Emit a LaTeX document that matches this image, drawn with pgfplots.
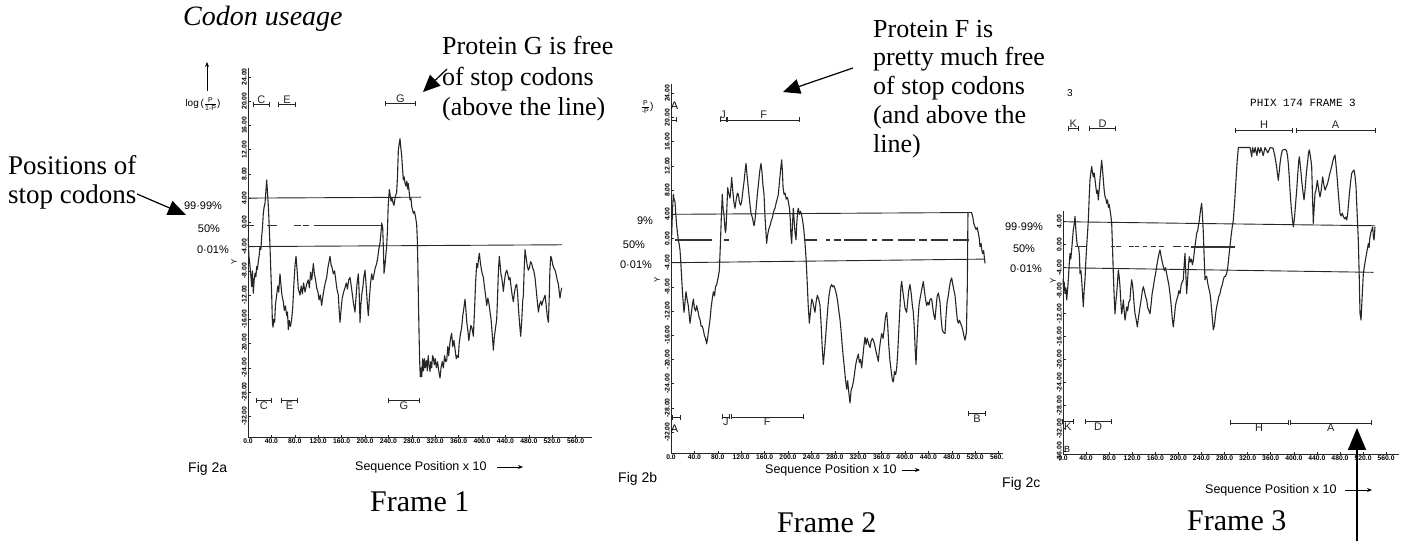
\documentclass[border=0pt]{standalone}
\usepackage{fontspec}
\setmainfont{Liberation Serif}
\setsansfont{Liberation Sans}
\setmonofont{Liberation Mono}
\usepackage{pgfplots}
\pgfplotsset{compat=1.18}
\usetikzlibrary{arrows.meta}
\newcommand\sz[2]{\fontsize{#1}{#2}\selectfont}
\newcommand\tl{\sffamily\bfseries\sz{6.8}{7}}
\newcommand\bl{\sffamily\sz{11}{12}}
\pgfplotsset{
  panel/.style={
    scale only axis, clip=false, anchor=south west,
    axis x line=bottom, axis y line=left,
    axis line style={-, line width=0.9pt, black!85},
    xtick={0,40,...,560},
    ytick={-32,-28,...,24},
    tick style={black!85, line width=0.6pt},
    major tick length=2.5pt, tick align=inside,
    /pgf/number format/assume math mode=true,
    xticklabel style={font=\tl, inner sep=1pt,
      /pgf/number format/fixed, /pgf/number format/fixed zerofill, /pgf/number format/precision=1},
    yticklabel style={font=\tl, rotate=90, anchor=south, inner sep=1pt,
      /pgf/number format/fixed, /pgf/number format/fixed zerofill, /pgf/number format/precision=2},
  },
  dat/.style={black!85, line width=1.1pt, line join=round, no markers},
  thr/.style={black!85, line width=0.9pt, no markers},
  stops/.style={only marks, mark=-, mark size=2.2pt, mark options={line width=1.3pt, black!80}},
  brk/.style={black!85, line width=0.8pt, no markers, arrows={Bar[width=5pt]-Bar[width=5pt]}},
}
\begin{document}
\begin{tikzpicture}[x=1pt,y=1pt]
\path[use as bounding box] (0,0) rectangle (1401,541);

% ---------------- Frame 1 ----------------
\begin{axis}[panel, at={(248pt,103.5pt)}, width=344pt, height=369.7pt,
  xmin=0, xmax=588, ymin=-35.5, ymax=25.5]
\addplot[thr] coordinates {(0,4.0) (296,4.15)};
\addplot[thr] coordinates {(0,-4.0) (537,-3.7)};
\addplot[stops] coordinates {(2,-0.5) (6,-0.5) (37,-0.5) (45,-0.5) (83,-0.5) (87,-0.5) (97,-0.5) (101,-0.5)
 (116,-0.5) (120,-0.5) (124,-0.5) (128,-0.5) (132,-0.5) (136,-0.5) (140,-0.5) (144,-0.5)
 (150,-0.5) (154,-0.5) (158,-0.5) (162,-0.5) (166,-0.5) (170,-0.5) (174,-0.5) (178,-0.5) (182,-0.5) (186,-0.5) (190,-0.5)
 (196,-0.5) (202,-0.5) (206,-0.5) (212,-0.5) (218,-0.5) (224,-0.5)};
\addplot[dat] coordinates {
(0.3,-2.5) (1.5,-5.5) (3.4,-7.2) (5,-9) (6.3,-10.6) (7.5,-8) (9.1,-11.7) (10.5,-9.5) (12.0,-8.4) (13.5,-9.0)
(14.8,-7.3) (16,-7.8) (17.7,-6.4) (19,-5.5) (20.5,-4.0) (22,-4.5) (23.4,-2.3) (24.8,-0.8) (26.2,1.5) (27.5,2.5)
(29.1,3.2) (30.5,5.0) (31.9,7.0) (33.3,5.0) (34.8,2.6) (36.2,-0.5) (37.6,-4.0) (39,-8) (40.5,-12) (41.7,-16.5)
(42.8,-17.3) (44,-16.0) (45.5,-16.5) (47,-13.5) (49.0,-12.0) (51,-10.5) (52.5,-11.5) (54.7,-8.5) (56.5,-10.5) (58,-12.0)
(60.4,-13.1) (62,-14.5) (64,-13.8) (66.1,-15.4) (67.5,-14.8) (68.9,-17.7) (70.5,-16.2) (72.5,-17.2) (74.6,-16.0) (76.5,-14)
(78.5,-10) (80.5,-7) (82.1,-5.6) (84,-8) (86,-11) (88.9,-12.0) (91,-10.5) (93,-11.8) (95,-10) (97.5,-11.5)
(100.3,-10.2) (103,-9.5) (105,-10.8) (107,-8.2) (109,-9.5) (111.7,-6.8) (113.5,-8.5) (115.5,-9.5) (117.4,-10.8) (119.5,-11.5)
(121.5,-12.8) (123.5,-12.0) (125.9,-13.7) (128,-12.2) (130,-11.0) (132,-10.0) (134.5,-9.1) (136.5,-7.5) (138.5,-6.5) (140.2,-5.6)
(142,-7.0) (143.8,-7.5) (145.9,-8.5) (148,-8.0) (150,-9.5) (152,-11.0) (154.4,-12.0) (155.8,-14.5) (157.3,-16.5) (159,-14.5)
(161,-12.5) (163.5,-11.5) (165.8,-10.8) (168,-10.0) (170,-11.0) (172,-9.5) (174.4,-9.1) (176.5,-10.5) (178.5,-12.0) (180.5,-13.5)
(182.9,-14.8) (184.5,-12.5) (186.5,-10.0) (188.6,-8.5) (190,-11.5) (191.5,-16.5) (193,-13.5) (194.3,-12.0) (196.5,-10.5) (198,-9.0)
(200.0,-7.9) (202,-10.5) (204,-13.5) (205.7,-15.4) (207.5,-12.5) (209.5,-10.0) (211.4,-8.5) (213.5,-9.5) (215.5,-8.5) (217.5,-7.5)
(219.9,-6.8) (221.5,-6.0) (223.5,-4.5) (225.6,-3.4) (227.5,-1.5) (228.5,-0.1) (230.2,-0.8) (231.5,-4.5) (232.5,-8.4) (234.2,-7.0)
(235.5,-5.5) (237,-4.0) (238.5,-1.0) (239.5,2.5) (240.5,4.0) (241.6,5.4) (243,4.5) (244.5,3.5) (246,4.0) (248,3.2)
(249.5,2.8) (251,3.8) (252.5,4.5) (254,4.8) (255.5,7.5) (257,12.0) (258.5,13.0) (259.8,13.8) (261,12.5) (262.7,11.0)
(264,9.0) (265.5,7.0) (267,7.5) (268.4,6.5) (270,6.0) (271.5,6.8) (273,5.5) (274.1,6.4) (275.5,5.0) (277,3.7)
(278.5,4.0) (280,2.5) (282.6,1.5) (284.5,1.8) (286.5,0.8) (288.3,-0.3) (289.5,-3) (290.5,-8) (291.5,-14) (292.5,-19)
(293.5,-23) (294.5,-25.5) (296,-24.0) (297,-25.5) (298.5,-22.5) (300,-24.5) (301.5,-22.5) (303,-24.0) (305,-22.8) (306.5,-24.5)
(308,-22.0) (309.5,-23.5) (311.1,-24.6) (312.5,-23.0) (314,-24.0) (315.5,-22.0) (316.8,-22.3) (318.5,-23.5) (320,-22.5) (322,-24.0)
(324,-23.0) (326,-24.5) (328.2,-25.7) (330,-24.0) (332,-23.0) (334,-24.0) (336,-22.0) (338,-23.0) (339.6,-22.8) (341.5,-20.5)
(343,-22.0) (345,-20.0) (346.5,-19.0) (348.1,-18.3) (350,-20.5) (352,-19.5) (354,-21.0) (356,-22.5) (357.5,-22.0) (359.5,-22.3)
(361,-20.0) (363,-18.5) (365,-17.5) (367,-15.5) (368.5,-14.5) (370.9,-12.7) (372.5,-14.5) (374,-16.5) (376,-18.0) (377.5,-19.5)
(379.5,-18.0) (381,-17.0) (383,-17.5) (385.2,-18.8) (387,-15.0) (389,-10.0) (390.9,-6.8) (392.5,-7.5) (394,-6.0) (395.5,-5.1)
(397,-6.5) (399,-7.8) (400.5,-8.5) (402.3,-9.1) (404,-10.5) (406,-12.0) (408.0,-13.7) (410,-12.5) (412,-13.5) (413.7,-14.8)
(415.5,-16.0) (417.5,-18.5) (419.4,-21.1) (421,-19.0) (423,-17.5) (425.1,-16.0) (426.5,-12.5) (428,-8.0) (429.6,-5.6) (431,-7.0)
(432.3,-8.5) (433.6,-9.1) (435,-10.0) (436.5,-11.4) (438,-10.0) (440,-8.5) (442.2,-7.9) (444,-8.5) (446,-9.5) (447.9,-9.1)
(449.5,-10.5) (451.5,-12.0) (453.6,-13.1) (455.5,-11.5) (457.5,-10.5) (459.3,-10.2) (461,-12.0) (462.5,-14.5) (464.3,-16.8) (466.1,-18.8)
(468,-16.0) (469.5,-13.0) (470.7,-12.0) (472,-8.0) (473.5,-4.5) (475,-5.5) (477,-7.0) (479.2,-7.9) (481,-7.5) (483,-6.5)
(484.9,-6.8) (486.5,-7.5) (488.5,-8.0) (490.6,-9.1) (492.5,-11.0) (494.5,-13.0) (496.4,-14.8) (498.5,-13.5) (500.5,-13.0) (502.1,-13.7)
(504,-13.0) (506,-12.5) (507.8,-12.0) (509.5,-13.5) (511.5,-15.5) (513.5,-16.5) (515,-12.0) (516,-8.0) (517.5,-5.6) (519,-6.0)
(521,-7.0) (522.5,-7.5) (524.8,-7.9) (526.5,-8.5) (528.5,-9.5) (530.5,-10.2) (532,-11.5) (533.3,-12.5) (534.8,-11.5) (536.2,-10.8)};
\addplot[brk] coordinates {(9.1,19.4) (36.5,19.4)} node[pos=0.5,above,inner sep=1pt,font=\bl]{C};
\addplot[brk] coordinates {(51.9,19.4) (81.5,19.4)} node[pos=0.5,above,inner sep=1pt,font=\bl]{E};
\addplot[brk] coordinates {(234,19.6) (287,19.6)} node[pos=0.5,above,inner sep=1pt,font=\bl]{G};
\addplot[brk] coordinates {(13.7,-29.4) (40.5,-29.4)} node[pos=0.5,below,inner sep=1pt,font=\bl]{C};
\addplot[brk] coordinates {(56.4,-29.4) (85.5,-29.4)} node[pos=0.5,below,inner sep=1pt,font=\bl]{E};
\addplot[brk] coordinates {(238.7,-29.4) (294,-29.4)} node[pos=0.5,below,inner sep=1pt,font=\bl]{G};
\end{axis}

% ---------------- Frame 2 ----------------
\begin{axis}[panel, at={(671pt,87.7pt)}, width=339.3pt, height=369.05pt,
  xmin=0, xmax=580, ymin=-35.5, ymax=25.5]
\addplot[thr] coordinates {(0,4.0) (514,4.3)};
\addplot[thr] coordinates {(0,-4.0) (537,-3.4)};
\addplot[stops] coordinates {(10,-0.25) (15,-0.25) (22,-0.25) (28,-0.25) (33,-0.25) (40,-0.25) (44,-0.25) (50,-0.25) (56,-0.25) (62,-0.25) (66,-0.25) (95,-0.25)
 (232,-0.25) (236,-0.25) (240,-0.25) (246,-0.25) (268,-0.25) (282,-0.25) (287,-0.25) (300,-0.25) (304,-0.25) (308,-0.25) (312,-0.25)
 (316,-0.25) (320,-0.25) (324,-0.25) (328,-0.25) (332,-0.25) (348,-0.25) (365,-0.25) (370,-0.25) (376,-0.25) (392,-0.25) (397,-0.25)
 (402,-0.25) (408,-0.25) (413,-0.25) (428,-0.25) (434,-0.25) (448,-0.25) (453,-0.25) (458,-0.25) (463,-0.25) (469,-0.25)
 (485,-0.25) (490,-0.25) (495,-0.25) (500,-0.25) (505,-0.25)};
\addplot[dat] coordinates {
(0.5,-1.0) (1.1,0.4) (2.5,4.5) (4.0,7.3) (5.2,6.5) (6.8,6.1) (8.2,4.0) (9.7,2.1) (11,1.0) (12.5,-0.2)
(14,-1.0) (15.4,-1.9) (16.8,-4.0) (18.2,-6.5) (20,-9.5) (22.2,-12.2) (24,-10.5) (25.6,-8.8) (27.5,-10.0) (29.6,-11.1)
(31,-12.5) (32.5,-14.0) (34.5,-12.5) (36.5,-11.0) (38.2,-10.0) (40,-11.5) (42,-12.0) (43.9,-11.1) (46,-12.0) (48,-13.0)
(49.6,-13.4) (51.5,-14.5) (53.5,-14.5) (55.3,-15.1) (57,-16.0) (59,-16.5) (60.9,-17.4) (62.5,-16.5) (64.5,-15.0) (66.7,-13.4)
(68.5,-11.5) (70.5,-10.0) (72.4,-8.8) (74.5,-9.5) (76,-8.0) (78.1,-7.6) (80.5,-6.5) (82.6,-5.3) (84,-2.0) (84.9,0.4)
(86.2,4.0) (87.7,7.3) (89,5.0) (90.6,3.8) (92,2.0) (93,1.0) (94.0,1.5) (95.5,5.0) (96.9,8.4) (98.5,7.5)
(100.9,6.7) (102.5,8.5) (103.7,10.1) (105.5,8.0) (107.5,6.0) (109.4,5.0) (111.5,6.5) (113.5,7.5) (115.1,7.3) (117,6.0)
(119,5.5) (120.8,6.1) (123,8.0) (125,9.5) (126.5,11.0) (128.2,12.4) (130,10.5) (132,8.5) (135.0,5.6) (137,4.0)
(139,3.5) (141.9,2.1) (143.5,3.0) (145.5,5.0) (147.6,7.3) (149.5,9.0) (151.5,11.0) (153.8,12.4) (155.5,11.0) (157,9.0)
(159.0,7.3) (160.5,4.0) (162,1.5) (163.5,-0.8) (165,0.5) (167,1.5) (169.2,2.1) (171.5,3.0) (173.5,3.5) (175.5,4.5)
(177.8,5.0) (180,6.0) (181.5,6.5) (183.5,7.3) (185.5,9.5) (187.5,11.5) (189.2,13.0) (190.5,11.0) (191.5,8.5) (193.2,7.3)
(195,7.5) (197,6.5) (199,6.8) (200.6,6.1) (202.5,5.0) (204,3.0) (205,0.5) (206.3,-0.8) (207.5,2.0) (209.1,5.0)
(210.5,3.0) (212,1.0) (213.7,-0.2) (215,2.5) (216.5,4.5) (217.7,5.0) (219.5,4.0) (221.5,4.5) (223.4,3.8) (225,3.0)
(227,1.5) (229.1,-0.8) (231,-3.5) (233.0,-7.6) (234.5,-11.0) (236.5,-14.0) (238,-12.5) (240.5,-10.0) (242.5,-10.5) (244.5,-11.5)
(246.2,-12.2) (248,-10.5) (250.1,-9.4) (252.5,-10.0) (254.7,-11.1) (256.5,-14.0) (258.5,-18.0) (260.4,-20.8) (262.5,-18.5) (264.5,-16.0)
(266.1,-14.0) (268,-11.5) (270,-9.5) (272.5,-8.0) (274.6,-7.6) (276.5,-8.0) (278.5,-7.8) (281,-8.5) (283.2,-9.4) (285,-10.5)
(287,-12.0) (288.9,-13.4) (290.5,-15.0) (292.5,-17.5) (294.6,-19.7) (296.5,-21.5) (298.5,-23.5) (300.3,-24.9) (302,-23.5) (304,-25.5)
(306.0,-27.2) (308,-25.0) (310,-24.5) (311.7,-23.7) (313.5,-22.5) (315.5,-21.0) (317.5,-20.0) (320.2,-19.1) (322,-20.5) (324,-20.0)
(325.9,-21.4) (327.5,-20.0) (329.5,-18.0) (331.6,-16.3) (333.5,-17.5) (335.5,-16.5) (338,-17.5) (340.2,-18.0) (342,-17.0) (344,-16.5)
(345.9,-16.8) (348,-17.5) (350,-18.5) (352.5,-19.5) (354.4,-20.3) (356,-18.5) (358,-17.0) (360.1,-15.7) (362.5,-16.5) (364.5,-15.0)
(366.5,-13.0) (368.7,-12.2) (370.5,-14.5) (372.5,-18.0) (374.4,-20.3) (376.5,-22.0) (378.5,-23.5) (380.1,-23.7) (382,-22.0) (384,-22.5)
(385.8,-21.4) (387.5,-19.0) (389.5,-15.0) (391.5,-11.0) (393,-8.0) (394.3,-7.1) (396,-8.5) (398,-10.0) (400,-11.5) (402.8,-12.2)
(404.5,-10.5) (406.5,-8.5) (408.5,-7.6) (410.5,-9.0) (412.5,-11.0) (414.2,-12.2) (416,-15.0) (417.5,-18.5) (418.8,-20.8) (420.5,-17.0)
(422.5,-13.0) (424,-11.0) (425.6,-10.0) (427.5,-9.0) (429.5,-8.0) (431.3,-7.1) (433,-8.5) (435,-10.0) (437.0,-11.1) (439,-10.5)
(441,-11.0) (443,-10.0) (445.6,-10.0) (447.5,-11.5) (449,-12.5) (451.3,-13.4) (453,-11.5) (455,-9.5) (457,-9.0) (459.8,-10.5)
(461.5,-13.0) (463.5,-15.0) (465.5,-15.5) (468.4,-15.7) (470,-13.0) (472,-10.5) (474.1,-9.4) (476,-8.0) (477.8,-7.0) (479.8,-6.5)
(481.5,-7.5) (483.5,-8.5) (485.5,-9.4) (487.5,-11.5) (489.5,-13.5) (491.2,-14.0) (493,-13.5) (495,-14.0) (496.9,-14.5) (498.5,-15.0)
(500.5,-16.0) (502.6,-16.8) (505,-15.5) (506.5,-8.0) (507.5,3.0) (508.5,9.0) (510,10.0) (512,8.0) (514,4.2) (516,3.5)
(517.5,2.5) (519.7,1.9) (521.5,1.5) (523.5,1.8) (525.4,0.85) (527,0.0) (528.2,-1.35) (530,-0.8) (531.5,-2.0) (532.8,-2.5)
(534.5,-2.0) (535.5,-3.0) (536.8,-4.1)};
\addplot[brk] coordinates {(0.5,19.6) (10,19.6)};
\addplot[brk] coordinates {(83,19.6) (95,19.6)} node[pos=0.5,above,inner sep=1pt,font=\bl]{J};
\addplot[brk] coordinates {(96.5,19.6) (220.5,19.6)} node[pos=0.5,above,inner sep=1pt,font=\bl]{F};
\addplot[brk] coordinates {(1.1,-29.6) (16.6,-29.6)};
\addplot[brk] coordinates {(86.6,-29.5) (100.9,-29.5)} node[pos=0.5,below,inner sep=1pt,font=\bl]{J};
\addplot[brk] coordinates {(102,-29.5) (227.4,-29.5)} node[pos=0.5,below,inner sep=1pt,font=\bl]{F};
\addplot[brk] coordinates {(508.2,-28.9) (538.5,-28.9)} node[pos=0.5,below,inner sep=1pt,font=\bl]{B};
\node[font=\bl, inner sep=0pt] at (axis cs:6,22) {A};
\node[font=\bl, inner sep=0pt] at (axis cs:6,-31.5) {A};
\end{axis}

% white cover of the overlapping third scan
\fill[white] (966,329) rectangle (1003,541);
\fill[white] (1003,0) rectangle (1401,541);

% ---------------- Frame 3 ----------------
\begin{axis}[panel, at={(1063pt,86.4pt)}, width=336.4pt, height=310.5pt,
  xmin=0, xmax=583, ymin=-36.5, ymax=17.5, ytick={-36,-32,...,4},
  y axis line style={draw=none}]
\addplot[black!85, line width=0.9pt] coordinates {(0,-36.5) (0,5.8)};
\addplot[thr] coordinates {(0,4.0) (541,3.3)};
\addplot[thr] coordinates {(0,-4.0) (538,-4.8)};
\addplot[stops] coordinates {(24,-0.3) (27,-0.3) (30,-0.3) (33,-0.3) (36,-0.3)
 (87,-0.35) (96,-0.35) (119,-0.35) (128,-0.35) (142,-0.35) (157,-0.35) (171,-0.35) (194,-0.35) (200,-0.35) (214,-0.35)
 (226,-0.4) (230,-0.4) (234,-0.4) (238,-0.4) (242,-0.4) (246,-0.4) (250,-0.4) (254,-0.4) (258,-0.4) (262,-0.4)
 (266,-0.4) (270,-0.4) (274,-0.4) (278,-0.4) (282,-0.4) (286,-0.4) (290,-0.4) (294,-0.4)};
\addplot[dat] coordinates {
(0.3,-6.0) (0.6,-7.3) (2,-6.5) (3.5,-8.5) (5,-7.5) (6.4,-9.6) (7.8,-8.0) (9.2,-6.1) (10.7,-3.5) (12.1,-1.5)
(13.5,-2.5) (15.0,-0.9) (16.5,1.0) (17.9,2.6) (19.3,3.5) (20.8,4.9) (22.3,2.5) (23.7,0.8) (25,-0.3) (27,-0.3)
(28.5,-2.0) (29.5,-5.0) (31,-4.5) (32.3,-6.1) (33.8,-8.5) (35.2,-10.8) (36.6,-8.0) (38.1,-6.1) (39.5,-3.0) (41.0,-0.3)
(42.5,2.0) (43.9,4.3) (45.3,8.0) (46.8,11.3) (48.2,12.5) (49.7,13.6) (51.2,12.5) (52.6,11.8) (54,12.5) (55.5,11.3)
(57,10.0) (58.3,8.9) (59.8,9.5) (61.2,7.8) (62.6,9.5) (64.1,11.3) (65.5,13.0) (67.0,14.7) (68.5,13.0) (69.9,11.3)
(71.3,9.5) (72.8,8.4) (74.2,8.0) (75.7,7.2) (77.2,7.8) (78.6,6.5) (80,7.0) (81.5,6.0) (83,5.0) (84.4,3.7)
(85.8,-0.5) (87.2,-5.0) (88.7,-9.0) (90.1,-12.0) (91.5,-10.0) (93.0,-8.5) (94.5,-6.5) (95.9,-4.4) (97.3,-5.5) (98.8,-7.3)
(100.2,-10.0) (101.7,-12.0) (103.1,-11.0) (104.6,-9.6) (106,-11.5) (107.5,-13.1) (109,-12.0) (110.3,-10.8) (112,-11.5) (114,-10.0)
(116.1,-9.6) (117.5,-7.5) (119.0,-6.1) (120.5,-7.0) (121.9,-8.5) (123.3,-10.5) (124.8,-12.0) (126.8,-13.0) (128.8,-14.3) (131,-12.5)
(133.5,-10.8) (135.5,-9.5) (137.5,-8.0) (139.2,-7.3) (141,-8.0) (143,-9.0) (145.0,-9.6) (147,-11.0) (149,-11.5) (150.8,-12.0)
(152.5,-10.5) (154.5,-8.5) (156.6,-7.3) (158.5,-6.0) (160.5,-5.0) (162.3,-3.8) (164.5,-2.5) (166.5,-1.5) (168.1,-0.9) (170,-2.0)
(172,-3.0) (173.9,-3.8) (175.8,-4.5) (177.7,-4.0) (179.6,-5.0) (181.5,-6.0) (183.5,-7.0) (185.4,-8.5) (187.5,-10.5) (189.5,-13.0)
(191.2,-14.3) (193,-12.5) (195,-10.5) (197.0,-9.6) (199,-9.0) (200.8,-8.0) (202.8,-8.5) (204.7,-7.0) (206.5,-6.5) (208.5,-6.1)
(210,-3.5) (211.4,-1.5) (212.8,-5.0) (214.3,-8.5) (216,-6.0) (217.5,-3.5) (218.9,-2.1) (220.5,-3.0) (222.5,-2.5) (224.3,-3.5)
(225.9,-2.7) (227.8,-1.0) (229.8,0.5) (231.7,2.0) (233.5,2.5) (235,3.5) (236.3,4.3) (238.3,6.0) (240.3,7.2) (241.8,5.0)
(243.2,2.0) (244.6,-2.0) (246.1,-6.1) (247.5,-5.5) (249.0,-5.5) (250.5,-6.5) (252.5,-7.5) (254.8,-8.5) (256.5,-10.0) (258.5,-12.5)
(260.5,-14.8) (262.5,-14.0) (264.5,-12.0) (266.3,-10.8) (268,-10.0) (270,-9.0) (272.1,-8.5) (274,-7.5) (276,-7.0) (277.8,-6.1)
(279.8,-5.5) (281.7,-5.5) (283.6,-5.0) (285.5,-4.0) (287.5,-2.0) (289.4,-0.3) (291.3,1.5) (293.2,3.0) (295.2,4.3) (297.5,7.5)
(299.8,11.3) (301.8,14.5) (303.9,16.9) (324.1,16.9) (325.5,16.2) (327.0,15.3) (328.5,16.9) (331,16.0) (333,16.9) (336,15.5)
(338,16.9) (341,16.0) (343,16.9) (347,15.5) (350,16.9) (355,16.0) (359,16.9) (364,16.8) (367,15.5) (370.3,13.5)
(372,12.0) (373.2,11.2) (375,13.0) (376.1,14.1) (378,15.5) (380,16.4) (381.9,16.5) (384,16.6) (386,16.5) (387.6,16.3)
(389,15.5) (390.5,14.1) (392,12.0) (393.4,9.5) (395.5,6.5) (397.5,4.5) (399.2,3.1) (401,4.5) (403,7.0) (405.0,9.5)
(407,12.5) (408.5,14.5) (409.6,15.3) (411,14.0) (412.5,12.5) (413.6,11.2) (415.5,9.5) (417.7,7.8) (419.5,9.5) (421,11.5)
(422.3,13.0) (424,14.5) (425.5,16.0) (426.9,16.5) (428.5,15.5) (430,14.5) (431,13.5) (432.5,8.0) (433.8,3.7) (435,6.0)
(436.7,8.9) (438.5,9.5) (440.8,11.2) (442.5,10.0) (444,9.0) (445.4,8.3) (447.5,9.5) (450.0,11.8) (452,10.5) (454.1,9.5)
(456,10.0) (458,10.5) (459.8,11.2) (461.5,12.0) (463.5,12.8) (465.6,13.6) (467.5,14.5) (469.5,15.2) (471.4,15.6) (473.5,13.5)
(475.5,11.2) (477.5,8.5) (480.1,5.4) (482,5.0) (484,5.5) (485.9,4.9) (488,4.5) (490,4.8) (491.7,4.3) (493.5,5.5)
(496.3,8.9) (498.5,11.0) (500.3,12.4) (502.5,12.8) (504.4,13.0) (506,12.0) (507.8,10.1) (509.5,6.0) (511.8,0.8) (513.5,-6.0)
(514.7,-11.9) (516.5,-13.1) (518,-10.0) (519.5,-7.0) (520.5,-5.0) (522,-4.0) (523.5,-3.0) (525.1,-2.1) (527,-1.0) (529.2,0.2)
(530.5,-0.5) (531.5,1.0) (533.2,2.0) (534.8,2.5) (536.7,3.1) (537.8,1.5) (539.0,0.8) (540,2.0) (540.7,3.1)};
\addplot[brk] coordinates {(9.2,20.2) (26.6,20.2)} node[pos=0.5,above,inner sep=1pt,font=\bl]{K};
\addplot[brk] coordinates {(45.6,20.2) (91.9,20.2)} node[pos=0.5,above,inner sep=1pt,font=\bl]{D};
\addplot[brk] coordinates {(298,19.9) (399,19.9)} node[pos=0.5,above,inner sep=1pt,font=\bl]{H};
\addplot[brk] coordinates {(403,19.9) (542,19.9)} node[pos=0.5,above,inner sep=1pt,font=\bl]{A};
\addplot[brk] coordinates {(-2.3,-30.8) (19.1,-30.8)} node[pos=0.5,below,inner sep=1pt,font=\bl]{K};
\addplot[brk] coordinates {(37.7,-30.8) (83.9,-30.8)} node[pos=0.5,below,inner sep=1pt,font=\bl]{D};
\addplot[brk] coordinates {(289.4,-31.0) (390.5,-31.0)} node[pos=0.5,below,inner sep=1pt,font=\bl]{H};
\addplot[brk] coordinates {(393.4,-31.0) (535,-31.0)} node[pos=0.5,below,inner sep=1pt,font=\bl]{A};
\end{axis}

% ---------------- annotations ----------------
\node[anchor=base west, font=\sz{28}{32}\itshape, inner sep=0pt] at (183,515) {Codon useage};
\node[anchor=base west, font=\sz{27}{29}, inner sep=0pt] at (8,366) {Positions of};
\node[anchor=base west, font=\sz{27}{29}, inner sep=0pt] at (8,337) {stop codons};
\node[anchor=base west, font=\sz{26}{29}, inner sep=0pt] at (442,486) {Protein G is free};
\node[anchor=base west, font=\sz{26}{29}, inner sep=0pt] at (442,455) {of stop codons};
\node[anchor=base west, font=\sz{26}{29}, inner sep=0pt] at (442,425) {(above the line)};
\node[anchor=base west, font=\sz{26}{29}, inner sep=0pt] at (873,503.5) {Protein F is};
\node[anchor=base west, font=\sz{26}{29}, inner sep=0pt] at (873,475) {pretty much free};
\node[anchor=base west, font=\sz{26}{29}, inner sep=0pt] at (873,446) {of stop codons};
\node[anchor=base west, font=\sz{26}{29}, inner sep=0pt] at (873,417) {(and above the};
\node[anchor=base west, font=\sz{26}{29}, inner sep=0pt] at (873,388.5) {line)};
\node[anchor=base west, font=\sz{30}{34}, inner sep=0pt] at (370,29) {Frame 1};
\node[anchor=base west, font=\sz{30}{34}, inner sep=0pt] at (777,8) {Frame 2};
\node[anchor=base west, font=\sz{30}{34}, inner sep=0pt] at (1187,10) {Frame 3};

% small scan labels
\node[anchor=west, font=\sffamily\sz{14}{15}, inner sep=0pt] at (188,72) {Fig 2a};
\node[anchor=west, font=\sffamily\sz{14}{15}, inner sep=0pt] at (618,62) {Fig 2b};
\node[anchor=west, font=\sffamily\sz{14}{15}, inner sep=0pt] at (1002,57) {Fig 2c};
\node[anchor=west, font=\sffamily\sz{12.5}{14}, inner sep=0pt] at (355,74) {Sequence Position x 10};
\node[anchor=west, font=\sffamily\sz{12.5}{14}, inner sep=0pt] at (765,71) {Sequence Position x 10};
\node[anchor=west, font=\sffamily\sz{12.5}{14}, inner sep=0pt] at (1205,51) {Sequence Position x 10};
\draw[line width=0.8pt, -{Stealth[length=5pt,width=4pt]}] (497,74) -- (523,74);
\draw[line width=0.8pt, -{Stealth[length=5pt,width=4pt]}] (902,71) -- (920,71);
\draw[line width=0.8pt, -{Stealth[length=5pt,width=4pt]}] (1345,51) -- (1372,51);

\node[font=\sffamily\sz{11}{12}, inner sep=0pt] at (203,335) {99·99\%};
\node[font=\sffamily\sz{11}{12}, inner sep=0pt] at (209,312) {50\%};
\node[font=\sffamily\sz{11}{12}, inner sep=0pt] at (213,291) {0·01\%};
\node[font=\sffamily\sz{11}{12}, inner sep=0pt] at (645,320) {9\%};
\node[font=\sffamily\sz{11}{12}, inner sep=0pt] at (634,296) {50\%};
\node[font=\sffamily\sz{11}{12}, inner sep=0pt] at (636,276) {0·01\%};
\node[font=\sffamily\sz{11}{12}, inner sep=0pt] at (1024,314) {99·99\%};
\node[font=\sffamily\sz{11}{12}, inner sep=0pt] at (1024,292) {50\%};
\node[font=\sffamily\sz{11}{12}, inner sep=0pt] at (1026,272) {0·01\%};
\node[font=\sffamily\sz{8}{9}, rotate=90, inner sep=0pt] at (234,279) {Y};
\node[font=\sffamily\sz{8}{9}, rotate=90, inner sep=0pt] at (657,261) {Y};
\node[font=\sffamily\sz{8}{9}, rotate=90, inner sep=0pt] at (1053,260) {Y};

\node[font=\sffamily\sz{10}{11}, inner sep=0pt] at (203,437) {log\,($\frac{\mbox{\sz{7}{8}P}}{\mbox{\sz{7}{8}1-P}}$)};
\draw[line width=0.8pt, -{Stealth[length=5pt,width=4pt]}] (207,450) -- (207,479);
\node[font=\sffamily\sz{10}{11}, inner sep=0pt] at (647,434) {$\frac{\mbox{\sz{7}{8}P}}{\mbox{\sz{7}{8}-P}}$)};
\node[font=\ttfamily\sz{11}{12}, inner sep=0pt] at (1303,438) {PHIX 174 FRAME 3};
\node[font=\sffamily\sz{10}{11}, inner sep=0pt] at (1070,448) {3};
\node[font=\sffamily\sz{9}{10}, inner sep=0pt] at (1067,92) {B};

% arrows
\draw[line width=1.2pt, -{Triangle[length=18pt,width=15pt]}] (137,347) -- (186,326);
\draw[line width=1.2pt, -{Triangle[length=17pt,width=15pt]}] (447,472) -- (423,449);
\draw[line width=1.2pt, -{Triangle[length=17pt,width=15pt]}] (853,473) -- (783,449);
\draw[line width=1.6pt, -{Triangle[length=22pt,width=18pt]}] (1357,0) -- (1357,113);
\end{tikzpicture}
\end{document}
